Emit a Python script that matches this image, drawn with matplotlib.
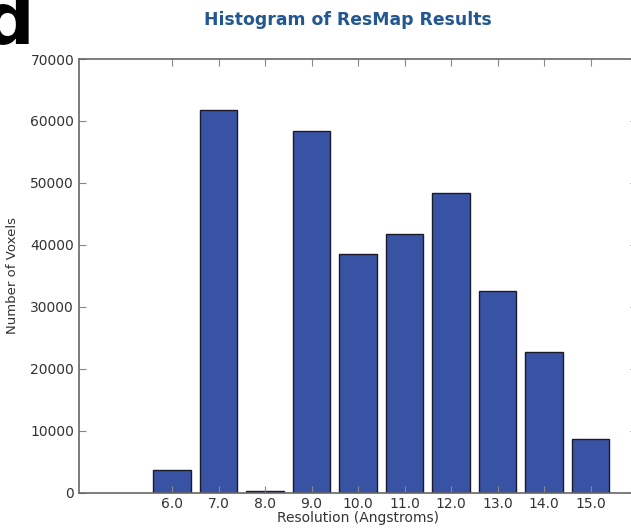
import matplotlib
matplotlib.use("Agg")
import matplotlib.pyplot as plt

# ResMap histogram values
resolution = [6.0, 7.0, 8.0, 9.0, 10.0, 11.0, 12.0, 13.0, 14.0, 15.0]
voxels = [3600, 61800, 200, 58400, 38500, 41700, 48400, 32500, 22700, 8600]
tick_labels = ["6.0", "7.0", "8.0", "9.0", "10.0", "11.0", "12.0", "13.0", "14.0", "15.0"]

fig = plt.figure(figsize=(6.31, 5.29), dpi=100)
ax = fig.add_axes([79 / 631, 36.5 / 529, 558 / 631, 433.5 / 529])

ax.bar(resolution, voxels, width=0.8, color="#3953a4", edgecolor="#1a1a2a", linewidth=1.0)

ax.set_xlim(4, 16)
ax.set_ylim(0, 70000)
ax.set_xticks(resolution)
ax.set_xticklabels(tick_labels)
ax.set_yticks(range(0, 70001, 10000))

for s in ax.spines.values():
    s.set_color("#666666")
    s.set_linewidth(1.2)
ax.tick_params(direction="in", top=True, right=True, length=5, color="#888888",
               labelsize=10, labelcolor="#333333")

ax.set_xlabel("Resolution (Angstroms)", fontsize=10, color="#333333", labelpad=0)
ax.set_ylabel("Number of Voxels", fontsize=9.5, color="#333333", labelpad=8)

# title sits a bit left of the axes centre in the original
fig.text(348 / 631, 1 - 20 / 529, "Histogram of ResMap Results", fontsize=12.4,
         fontweight="bold", color="#22578f", ha="center", va="center")

# panel letter, cut at the edge like in the paper figure
fig.text(-0.027, 1.02, "d", fontsize=52, fontweight="bold", color="black",
         ha="left", va="top")

fig.savefig("out.png", dpi=100)
